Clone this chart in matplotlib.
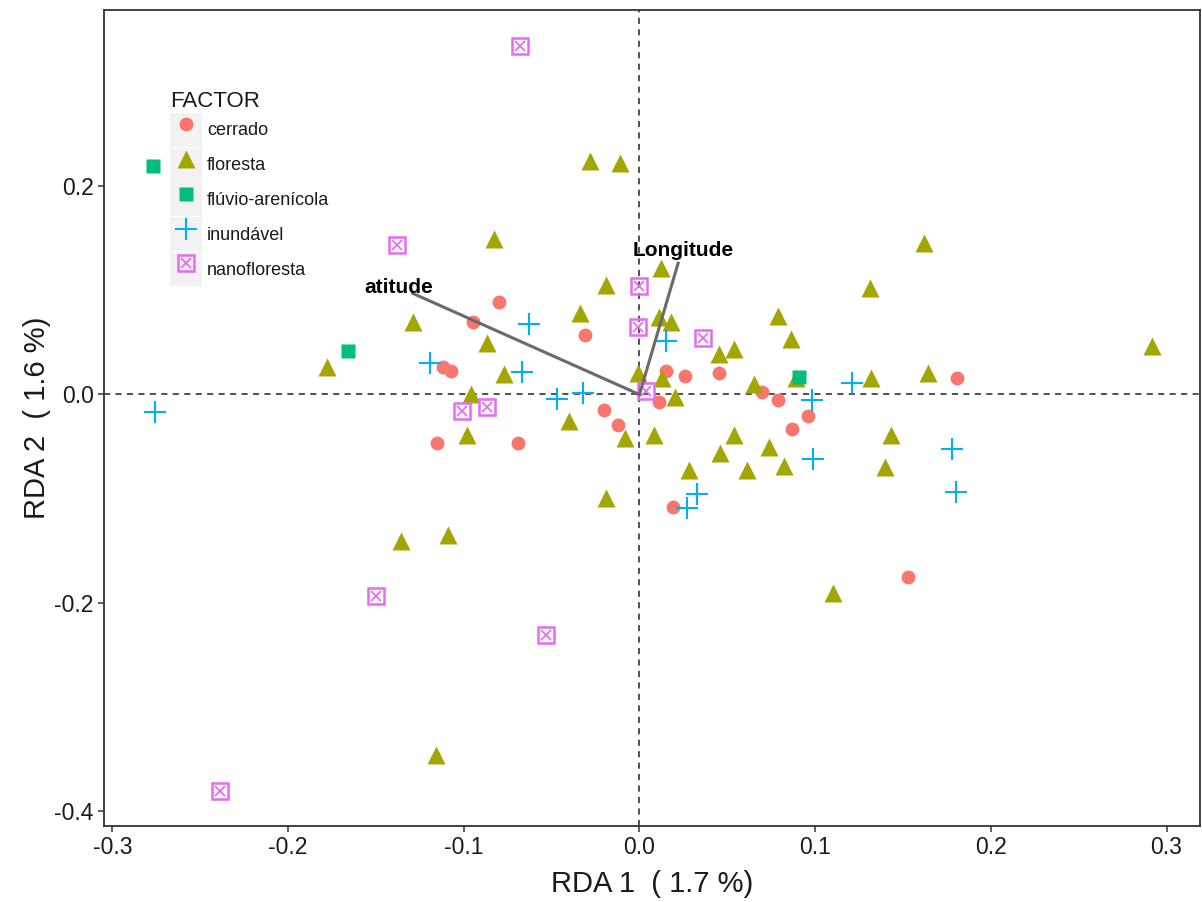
import numpy as np
import matplotlib
matplotlib.use("Agg")
import matplotlib.pyplot as plt
from matplotlib.lines import Line2D
from matplotlib.patches import Patch
from matplotlib.legend_handler import HandlerTuple

plt.rcParams['font.family'] = ['Liberation Sans', 'DejaVu Sans']
plt.rcParams['axes.unicode_minus'] = False

# site scores per FACTOR level (RDA1, RDA2)
cerrado_x = [-0.080, -0.095, -0.031, -0.112, -0.107, -0.115, -0.069, -0.020, -0.012, 0.015,
             0.026, 0.045, 0.011, 0.070, 0.079, 0.096, 0.087, 0.181, 0.019, 0.153]
cerrado_y = [0.089, 0.070, 0.057, 0.026, 0.023, -0.047, -0.047, -0.015, -0.029, 0.023,
             0.018, 0.021, -0.007, 0.002, -0.005, -0.021, -0.033, 0.016, -0.108, -0.175]

floresta_x = [-0.028, -0.011, -0.083, 0.162, 0.012, 0.131, -0.019, -0.129, -0.034, 0.011,
              0.018, 0.079, 0.086, -0.087, -0.178, -0.077, 0.045, 0.054, -0.001, 0.013,
              0.065, 0.089, 0.132, 0.164, 0.292, -0.096, 0.020, -0.040, -0.098, -0.008,
              0.008, 0.054, 0.046, 0.074, 0.028, 0.061, 0.082, 0.143, 0.140, -0.019,
              -0.109, -0.136, 0.110, -0.116]
floresta_y = [0.224, 0.222, 0.149, 0.145, 0.121, 0.102, 0.105, 0.070, 0.078, 0.074,
              0.070, 0.075, 0.053, 0.049, 0.026, 0.020, 0.039, 0.044, 0.021, 0.016,
              0.010, 0.016, 0.016, 0.021, 0.047, 0.000, -0.002, -0.025, -0.039, -0.042,
              -0.039, -0.039, -0.056, -0.050, -0.072, -0.072, -0.069, -0.039, -0.070, -0.099,
              -0.135, -0.141, -0.190, -0.346]

fluvio_x = [-0.277, -0.166, 0.091]
fluvio_y = [0.219, 0.042, 0.017]

inund_x = [-0.276, -0.119, -0.063, -0.067, -0.047, -0.032, 0.015, 0.098, 0.121, 0.099,
           0.178, 0.180, 0.033, 0.027]
inund_y = [-0.017, 0.030, 0.068, 0.022, -0.004, 0.001, 0.051, -0.005, 0.011, -0.062,
           -0.052, -0.094, -0.095, -0.109]

nano_x = [-0.068, -0.138, 0.000, -0.001, 0.036, 0.004, -0.101, -0.087, -0.150, -0.053, -0.239]
nano_y = [0.334, 0.143, 0.104, 0.065, 0.054, 0.003, -0.016, -0.012, -0.193, -0.231, -0.380]

# environmental vectors
env_names = ['atitude', 'Longitude']
env_x = [-0.129, 0.022]
env_y = [0.097, 0.126]
env_lab_x = [-0.137, 0.025]
env_lab_y = [0.103, 0.138]

cols = {'cerrado': '#F8766D', 'floresta': '#A3A500', 'fluvio': '#00BF7D',
        'inund': '#00B0F6', 'nano': '#E76BF3'}

fig = plt.figure(figsize=(12.02, 9.02), dpi=100)
ax = fig.add_axes([0.0865, 0.0843, 0.9122, 0.9047])

ax.axhline(0, color='#222222', lw=1.1, ls=(0, (4, 3.5)), zorder=1)
ax.axvline(0, color='#222222', lw=1.1, ls=(0, (4, 3.5)), zorder=1)

ax.plot(cerrado_x, cerrado_y, 'o', ms=10, color=cols['cerrado'], mec='none', zorder=3)
ax.plot(floresta_x, floresta_y, '^', ms=13, color=cols['floresta'], mec='none', zorder=3)
ax.plot(fluvio_x, fluvio_y, 's', ms=10, color=cols['fluvio'], mec='none', zorder=3)
ax.plot(inund_x, inund_y, '+', ms=16, mew=1.5, color=cols['inund'], zorder=3)
ax.plot(nano_x, nano_y, 's', ms=11, mfc='none', mew=1.8, mec=cols['nano'], zorder=3)
ax.plot(nano_x, nano_y, 'x', ms=6.5, mew=1.3, color=cols['nano'], zorder=3)

for i in range(len(env_names)):
    ax.plot([0, env_x[i]], [0, env_y[i]], color='#6a6a6a', lw=2.2, zorder=4)
    ax.text(env_lab_x[i], env_lab_y[i], env_names[i], ha='center', va='center',
            fontsize=15, fontweight='bold', color='black', zorder=5)

ax.set_xlim(-0.3048, 0.3193)
ax.set_ylim(-0.414, 0.369)
ax.set_xticks([-0.3, -0.2, -0.1, 0.0, 0.1, 0.2, 0.3])
ax.set_yticks([-0.4, -0.2, 0.0, 0.2])
ax.tick_params(labelsize=16.5, colors='#333333', labelcolor='#1a1a1a', length=4, width=1.1)
for s in ax.spines.values():
    s.set_color('#333333')
    s.set_linewidth(1.3)

ax.set_xlabel('RDA 1  ( 1.7 %)', fontsize=21, color='#1a1a1a', labelpad=8)
ax.set_ylabel('RDA 2  ( 1.6 %)', fontsize=21, color='#1a1a1a', labelpad=2)

# legend with grey key boxes
bg = '#F2F2F2'
handles = [
    (Patch(facecolor=bg, edgecolor='none'),
     Line2D([], [], ls='none', marker='o', ms=10, color=cols['cerrado'], mec='none')),
    (Patch(facecolor=bg, edgecolor='none'),
     Line2D([], [], ls='none', marker='^', ms=13, color=cols['floresta'], mec='none')),
    (Patch(facecolor=bg, edgecolor='none'),
     Line2D([], [], ls='none', marker='s', ms=10, color=cols['fluvio'], mec='none')),
    (Patch(facecolor=bg, edgecolor='none'),
     Line2D([], [], ls='none', marker='+', ms=16, mew=1.5, color=cols['inund'])),
    (Patch(facecolor=bg, edgecolor='none'),
     Line2D([], [], ls='none', marker='s', ms=11, mfc='none', mew=1.8, mec=cols['nano']),
     Line2D([], [], ls='none', marker='x', ms=6.5, mew=1.3, color=cols['nano'])),
]
labels = ['cerrado', 'floresta', 'flúvio-arenícola', 'inundável', 'nanofloresta']
leg = ax.legend(handles, labels, title='FACTOR', loc='upper left',
                bbox_to_anchor=(0.060, 0.901), frameon=False, fontsize=13,
                title_fontsize=16, handlelength=1.77, handleheight=2.52,
                handletextpad=0.3, labelspacing=0.05, borderpad=0, borderaxespad=0,
                alignment='left', handler_map={tuple: HandlerTuple(ndivide=1, pad=0)})
for t in leg.get_texts():
    t.set_color('#1a1a1a')
leg.get_title().set_color('#1a1a1a')

fig.savefig('out.png', dpi=100, facecolor='white')
